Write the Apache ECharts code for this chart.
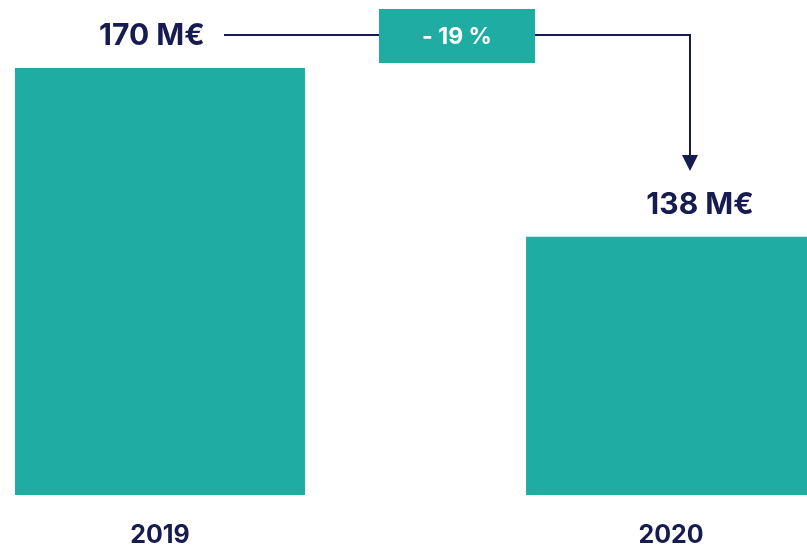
<!DOCTYPE html>
<html>
<head>
<meta charset="utf-8">
<script src="https://cdn.jsdelivr.net/npm/echarts@6/dist/echarts.min.js"></script>
<style>
  html, body { margin: 0; padding: 0; background: #fff; }
  #chart { width: 807px; height: 545px; }
</style>
</head>
<body>
<div id="chart"></div>
<script>
// données
var years = [2019, 2020];
var values = [170, 138];
var valueLabels = ["170 M€", "138 M€"];
var changeLabel = "- 19 %";

var teal = "#1fada3";
var navy = "#161c4f";

var chart = echarts.init(document.getElementById("chart"));

// décalage des étiquettes au-dessus des barres
var labelOffsets = [[-8, 0], [29, 0]];

var barData = values.map(function (v, i) {
  return {
    value: [years[i], v],
    label: { offset: labelOffsets[i] }
  };
});

var option = {
  animation: false,
  grid: { left: 0, right: 0, top: 68, bottom: 50, outerBoundsMode: "none" },
  xAxis: {
    type: "value",
    // la 2e barre est coupée à droite
    min: 2018.687,
    max: 2020.266,
    axisLine: { show: false },
    axisTick: { show: false },
    splitLine: { show: false },
    axisLabel: {
      customValues: years,
      margin: 28,
      color: navy,
      fontFamily: "Inter",
      fontWeight: 700,
      fontSize: 25,
      formatter: function (v) { return String(v); }
    }
  },
  yAxis: {
    type: "value",
    min: 89,
    max: 170,
    show: false,
    splitLine: { show: false }
  },
  series: [{
    type: "bar",
    data: barData,
    barWidth: 290,
    itemStyle: { color: teal },
    label: {
      show: true,
      position: "top",
      distance: 17,
      color: navy,
      fontFamily: "Inter",
      fontWeight: 700,
      fontSize: 30,
      formatter: function (p) { return valueLabels[p.dataIndex]; }
    }
  }],
  // flèche de variation
  graphic: [
    {
      type: "polyline",
      shape: { points: [[224, 35], [690, 35], [690, 158]] },
      style: { stroke: navy, lineWidth: 2, fill: null }
    },
    {
      type: "polygon",
      shape: { points: [[682, 155], [698, 155], [690, 171]] },
      style: { fill: navy }
    },
    {
      type: "rect",
      shape: { x: 379, y: 9, width: 156, height: 54 },
      style: { fill: teal }
    },
    {
      type: "text",
      x: 457,
      y: 37,
      style: {
        text: changeLabel,
        fill: "#fff",
        font: "700 23px Inter",
        align: "center",
        verticalAlign: "middle"
      }
    }
  ]
};

chart.setOption(option);
</script>
</body>
</html>
